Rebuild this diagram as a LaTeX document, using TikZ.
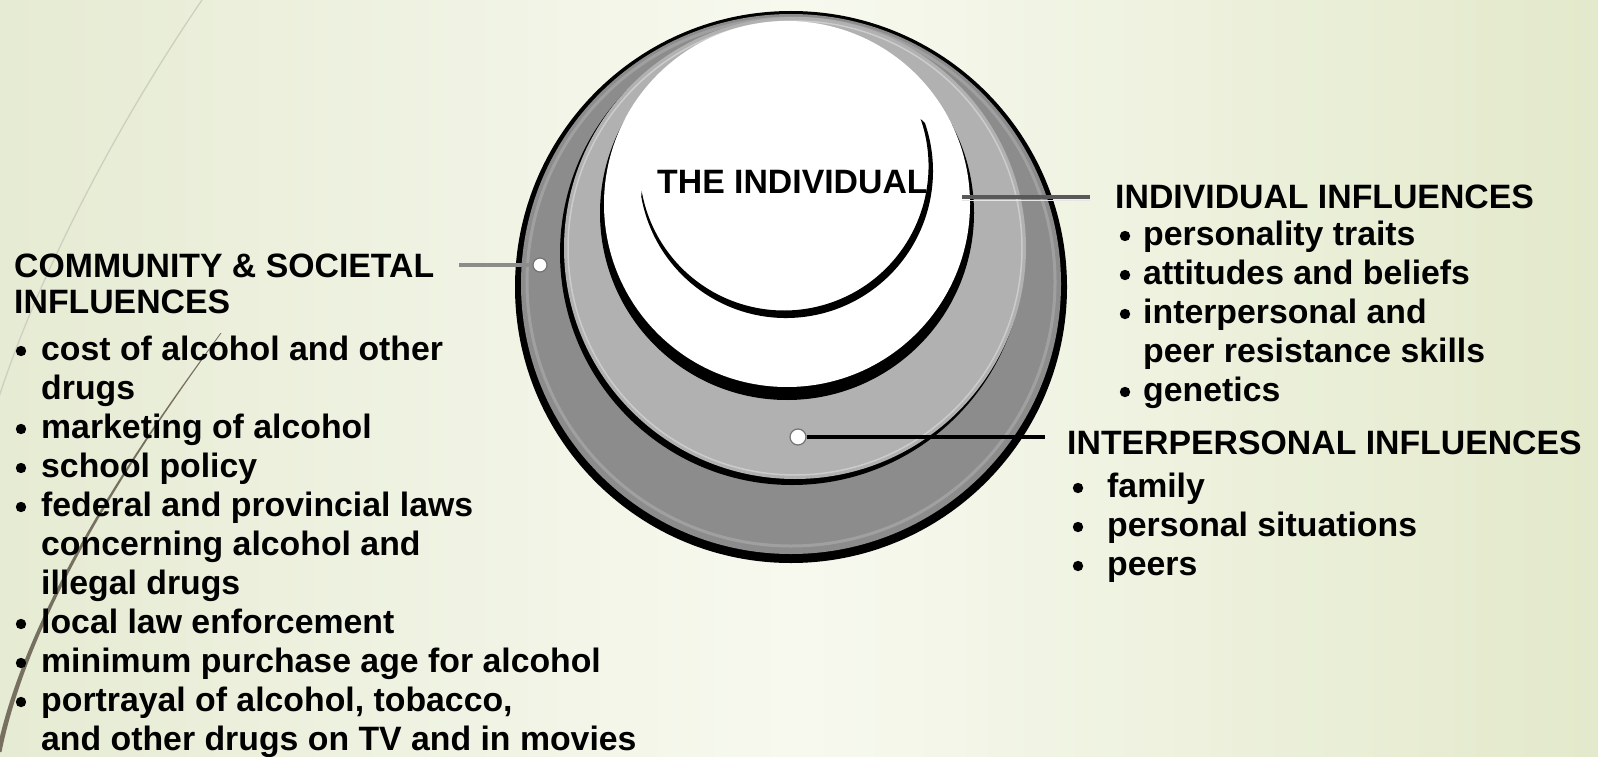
\documentclass[tikz,border=0pt]{standalone}
\usepackage{fontspec}
\setmainfont{Liberation Sans}
\usetikzlibrary{calc}
\definecolor{bgl}{HTML}{E6EBD3}
\definecolor{bgm}{HTML}{F7F9EF}
\definecolor{bgr}{HTML}{E3E9CB}
\definecolor{darkring}{HTML}{8C8C8C}
\definecolor{lightring}{HTML}{B1B1B1}
\definecolor{wisp}{HTML}{777060}
\definecolor{wisplight}{HTML}{CDD0BE}
\begin{document}
\begin{tikzpicture}[x=1pt,y=1pt,
  txt/.style={anchor=base west,inner sep=0pt,font=\fontsize{33.8}{39}\selectfont\bfseries},
  dot/.style={circle,fill=white,draw=black!55,line width=1.2pt,minimum size=14pt,inner sep=0pt},
  lead/.style={line width=3.2pt},
  bulletdot/.style={fill=black},
]
\useasboundingbox (0,0) rectangle (1598,-757);
\shade[left color=bgl, right color=bgr, middle color=bgm] (0,0) rectangle (1598,-757);
% wisp lines
\draw[wisplight, line width=1.3pt] (202,0) .. controls (120,-120) and (40,-270) .. (-2,-400);
\fill[wisp] (220.5,-333) .. controls (149,-430) and (28,-600) .. (-3.5,-752) -- (1.5,-752) .. controls (32,-600) and (151,-430) .. (221.5,-333) -- cycle;
% rings
\fill[black] (791,-287) circle[radius=276];
\fill[darkring] (791,-284) circle[radius=270];
\draw[white, opacity=0.18, line width=3pt] (791,-282) circle[radius=264];
\fill[black] (792,-253) circle[radius=232];
\fill[lightring] (795,-248) circle[radius=231];
\draw[white, opacity=0.35, line width=1.5pt] (795,-248) circle[radius=227];
\fill[black] (787,-213) circle[radius=187];
\fill[white] (787,-204) circle[radius=183];
% inner crescent
\fill[black] (786,-171) ++(190:147) arc[start angle=190,end angle=379,radius=147]
  -- ([shift={(784,-166)}]379:144.5) arc[start angle=379,end angle=190,radius=144.5] -- cycle;
% leaders
\node[dot] (cd) at (540,-265) {};
\node[dot, minimum size=16pt] (pd) at (798,-437) {};
\coordinate (cl) at (459,-265);
\coordinate (il1) at (962,-197);
\coordinate (il2) at (1090,-197);
\coordinate (pl) at (1045,-437);
\draw[lead, black!45] (cl) -- (cd);
\draw[lead, black!65] (il1) -- (il2);
\draw[white!80!gray, line width=1.2pt] ([yshift=-3.6]il1) -- ([yshift=-3.6]il2);
\draw[lead, black] (pd) -- (pl);
% bullets
\foreach \by in {351,429,468,507,624,663,702} \fill[bulletdot] (21,-\by) circle[radius=5.2];
\foreach \by in {236,275,314,392} \fill[bulletdot] (1125,-\by) circle[radius=5.2];
\foreach \by in {488,527,566} \fill[bulletdot] (1078,-\by) circle[radius=5.2];
% texts
\node[txt] (i0) at (657,-193) {THE INDIVIDUAL};
\node[txt] (c1) at (14,-277) {COMMUNITY \& SOCIETAL};
\node[txt] (c2) at (14,-313) {INFLUENCES};
\node[txt] (c3) at (41,-360) {cost of alcohol and other};
\node[txt] (c4) at (41,-399) {drugs};
\node[txt] (c5) at (41,-438) {marketing of alcohol};
\node[txt] (c6) at (41,-477) {school policy};
\node[txt] (c7) at (41,-516) {federal and provincial laws};
\node[txt] (c8) at (41,-555) {concerning alcohol and};
\node[txt] (c9) at (41,-594) {illegal drugs};
\node[txt] (c10) at (41,-633) {local law enforcement};
\node[txt] (c11) at (41,-672) {minimum purchase age for alcohol};
\node[txt] (c12) at (41,-711) {portrayal of alcohol, tobacco,};
\node[txt] (c13) at (41,-750) {and other drugs on TV and in movies};
\node[txt] (r1) at (1115,-208) {INDIVIDUAL INFLUENCES};
\node[txt] (r2) at (1143,-245) {personality traits};
\node[txt] (r3) at (1143,-284) {attitudes and beliefs};
\node[txt] (r4) at (1143,-323) {interpersonal and};
\node[txt] (r5) at (1143,-362) {peer resistance skills};
\node[txt] (r6) at (1143,-401) {genetics};
\node[txt] (p1) at (1067,-454) {INTERPERSONAL INFLUENCES};
\node[txt] (p2) at (1107,-497) {family};
\node[txt] (p3) at (1107,-536) {personal situations};
\node[txt] (p4) at (1107,-575) {peers};
\end{tikzpicture}
\end{document}
